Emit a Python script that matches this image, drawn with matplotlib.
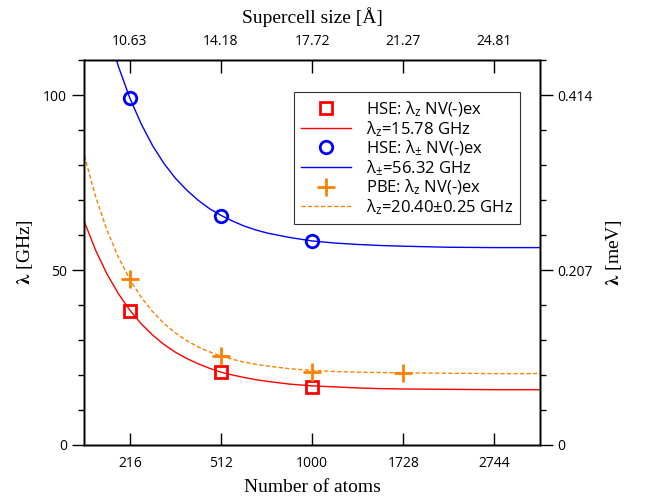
import numpy as np
import matplotlib
matplotlib.use("Agg")
import matplotlib.pyplot as plt
from matplotlib.ticker import MultipleLocator

plt.rcParams['font.family'] = ['Open Sans', 'DejaVu Sans']
plt.rcParams['mathtext.fontset'] = 'custom'
plt.rcParams['mathtext.rm'] = 'Open Sans'
plt.rcParams['mathtext.it'] = 'Open Sans:italic'

# supercell index n (number of atoms = 8 n^3, size = 3.5436 n Angstrom)
cell_n = [3, 4, 5, 6, 7]
atom_labels = ['216', '512', '1000', '1728', '2744']
size_labels = ['10.63', '14.18', '17.72', '21.27', '24.81']

# calculated points [GHz]
hse_z_n = [3, 4, 5]
hse_z = [38.4, 20.9, 16.6]
hse_pm_n = [3, 4, 5]
hse_pm = [99.1, 65.5, 58.3]
pbe_z_n = [3, 4, 5, 6]
pbe_z = [47.3, 25.5, 20.9, 20.7]

# fit curves [GHz]
fit_n = [2.5, 2.625, 2.75, 2.875, 3.0, 3.125, 3.25, 3.375, 3.5, 3.625,
         3.75, 3.875, 4.0, 4.125, 4.25, 4.375, 4.5, 4.75, 5.0, 5.25,
         5.5, 5.75, 6.0, 6.5, 7.0, 7.5]
fit_hse_z = [63.8, 55.6, 48.8, 43.2, 38.5, 34.6, 31.4, 28.7, 26.5, 24.7,
             23.2, 21.9, 20.8, 20.0, 19.3, 18.7, 18.2, 17.4, 16.9, 16.6,
             16.3, 16.1, 16.0, 15.9, 15.8, 15.8]
fit_hse_pm = [148.3, 132.3, 119.1, 108.1, 99.1, 91.7, 85.5, 80.4, 76.2, 72.8,
              69.9, 67.5, 65.6, 64.0, 62.6, 61.5, 60.6, 59.3, 58.3, 57.7,
              57.3, 57.0, 56.8, 56.5, 56.4, 56.4]
fit_pbe_z = [82.7, 70.9, 61.3, 53.6, 47.3, 42.2, 38.1, 34.7, 32.0, 29.8,
             28.0, 26.6, 25.4, 24.5, 23.7, 23.1, 22.6, 21.8, 21.3, 21.0,
             20.8, 20.7, 20.6, 20.5, 20.4, 20.4]

ghz_ticks = [0, 50, 100]
mev_labels = ['0', '0.207', '0.414']

red = '#ff0000'
blue = '#0000ff'
orange = '#ff8000'

fig = plt.figure(figsize=(6.46, 5.01), dpi=100)
ax = fig.add_axes([0.1305, 0.1118, 0.7055, 0.7684])

ax.plot(hse_z_n, hse_z, 's', ms=8.5, mfc='none', mec=red, mew=2,
        label='HSE: λ$_\\mathrm{z}$ NV(-)ex')
ax.plot(fit_n, fit_hse_z, '-', color=red, lw=1,
        label='λ$_\\mathrm{z}$=15.78 GHz')
ax.plot(hse_pm_n, hse_pm, 'o', ms=9, mfc='none', mec=blue, mew=2,
        label='HSE: λ$_\\mathrm{\\pm}$ NV(-)ex')
ax.plot(fit_n, fit_hse_pm, '-', color=blue, lw=1,
        label='λ$_\\mathrm{\\pm}$=56.32 GHz')
ax.plot(pbe_z_n, pbe_z, '+', ms=13, mec=orange, mew=2,
        label='PBE: λ$_\\mathrm{z}$ NV(-)ex')
ax.plot(fit_n, fit_pbe_z, '--', color=orange, lw=1, dashes=(3, 1.7),
        label='λ$_\\mathrm{z}$=20.40±0.25 GHz')

ax.set_xlim(2.5, 7.5)
ax.set_ylim(0, 110)

ax.set_xticks(cell_n)
ax.set_xticklabels(atom_labels)
ax.set_yticks(ghz_ticks)
ax.yaxis.set_minor_locator(MultipleLocator(10))
ax.tick_params(axis='x', direction='in', length=9, width=1, pad=8, labelsize=10)
ax.tick_params(axis='y', which='major', direction='out', length=9, width=1, labelsize=10)
ax.tick_params(axis='y', which='minor', direction='out', length=4.5, width=1)

serif = ['Liberation Serif', 'DejaVu Serif']
ax.set_xlabel('Number of atoms', family=serif, fontsize=14, labelpad=6)
ax.set_ylabel(r'$\mathbf{\lambda}$ [GHz]', family=serif, math_fontfamily='stix',
              fontsize=14, labelpad=6)

# right axis in meV
axr = ax.twinx()
axr.set_ylim(ax.get_ylim())
axr.set_yticks(ghz_ticks)
axr.set_yticklabels(mev_labels)
axr.yaxis.set_minor_locator(MultipleLocator(10))
axr.tick_params(axis='y', which='major', direction='out', length=9, width=1, labelsize=10)
axr.tick_params(axis='y', which='minor', direction='out', length=4.5, width=1)
axr.set_ylabel(r'$\mathbf{\lambda}$ [meV]', family=serif, math_fontfamily='stix',
               fontsize=14, labelpad=8)

# top axis in Angstrom
axt = ax.twiny()
axt.set_xlim(ax.get_xlim())
axt.set_xticks(cell_n)
axt.set_xticklabels(size_labels)
axt.tick_params(axis='x', direction='in', length=9, width=1, pad=8, labelsize=10)
axt.set_xlabel('Supercell size [Å]', family=serif, fontsize=14, labelpad=8)

for a in (ax, axr, axt):
    for s in a.spines.values():
        s.set_linewidth(1)

leg = ax.legend(loc='upper left', bbox_to_anchor=(0.460, 0.917), fontsize=12,
                frameon=True, fancybox=False, edgecolor='black',
                handlelength=3.0, handletextpad=0.85, labelspacing=0.0,
                borderpad=0.45, numpoints=1, borderaxespad=0)
leg.get_frame().set_linewidth(0.8)

fig.savefig('out.png', dpi=100)
